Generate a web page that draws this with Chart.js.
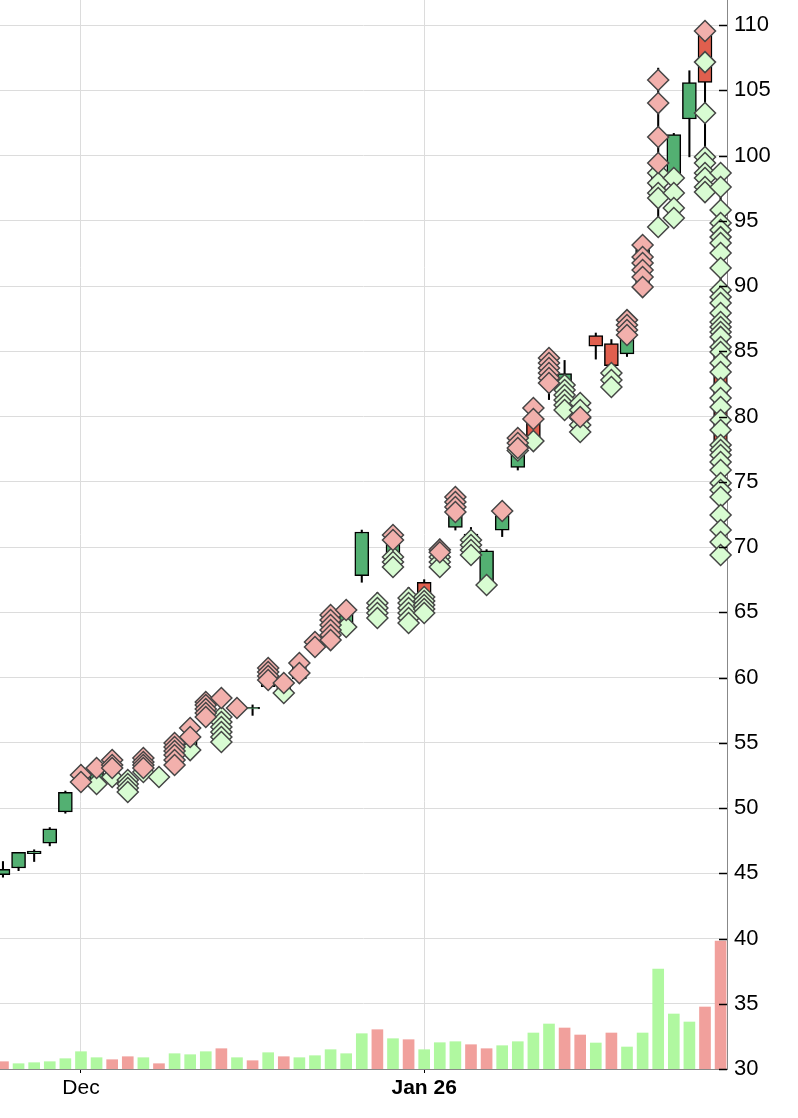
<!DOCTYPE html>
<html>
<head>
<meta charset="utf-8">
<script src="https://cdn.jsdelivr.net/npm/chart.js@4.4.0/dist/chart.umd.min.js"></script>
<style>
  html, body { margin: 0; padding: 0; background: #fff; }
</style>
</head>
<body>
<canvas id="chart" width="798" height="1118"></canvas>
<script>
// x tick positions (trading-day index) and their labels
const tickPos = [5, 27];
const tickLabels = ["Dec", "Jan 26"];
const yTicks = [30, 35, 40, 45, 50, 55, 60, 65, 70, 75, 80, 85, 90, 95, 100, 105, 110];

// daily candles, one per trading day
const opens  = [44.9, 45.4, 46.5, 47.3, 49.7, 52.1, 52.0, 52.6, 51.4, 52.6, 52.3, 53.7, 54.6, 56.8, 55.3, 57.6, 57.6, 59.3, 59.0, 59.9, 62.5, 63.2, 64.1, 67.8, 64.5, 68.4, 64.5, 67.3, 68.6, 71.5, 70.2, 67.3, 71.3, 76.1, 79.7, 82.8, 82.2, 79.0, 86.2, 85.6, 84.8, 89.8, 97.0, 98.4, 102.8, 109.5, 86.5];
const highs  = [45.9, 46.6, 46.8, 48.5, 51.3, 53.3, 53.0, 53.8, 52.2, 53.8, 52.7, 54.8, 56.0, 58.1, 57.2, 58.0, 57.9, 60.4, 59.6, 61.1, 62.9, 64.9, 65.2, 71.3, 66.5, 70.9, 66.9, 67.5, 70.6, 73.8, 71.5, 69.8, 72.6, 78.0, 80.5, 84.6, 84.3, 81.0, 86.4, 85.9, 87.4, 93.1, 106.7, 101.7, 106.5, 109.8, 98.5];
const lows   = [44.7, 45.2, 45.9, 47.1, 49.6, 52.0, 51.9, 52.4, 51.2, 52.4, 52.2, 53.6, 54.4, 56.6, 55.0, 57.4, 57.1, 59.2, 58.8, 59.8, 62.4, 63.0, 63.9, 67.3, 64.3, 68.2, 64.2, 65.0, 68.4, 71.3, 69.5, 67.1, 70.8, 75.9, 78.1, 81.3, 80.6, 78.8, 84.4, 82.5, 84.6, 89.7, 94.5, 95.2, 99.9, 100.2, 69.5];
const closes = [45.3, 46.6, 46.7, 48.4, 51.2, 52.5, 52.9, 53.6, 51.9, 53.5, 52.5, 54.5, 55.5, 57.8, 56.8, 57.8, 57.72, 60.1, 59.4, 60.9, 62.8, 64.6, 64.9, 71.15, 66.0, 70.4, 66.0, 66.3, 69.7, 73.4, 71.0, 69.7, 72.4, 77.3, 78.4, 84.2, 83.3, 80.8, 85.4, 83.9, 86.6, 92.8, 98.5, 101.6, 105.6, 105.6, 77.3];

// volume (millions) and whether the volume bar is drawn as an up day
const volumes = [0.73, 0.53, 0.63, 0.73, 1.03, 1.73, 1.13, 0.93, 1.23, 1.13, 0.53, 1.53, 1.43, 1.73, 2.03, 1.13, 0.83, 1.63, 1.23, 1.13, 1.33, 1.93, 1.53, 3.53, 3.93, 3.03, 2.93, 1.93, 2.63, 2.73, 2.43, 2.03, 2.33, 2.73, 3.6, 4.5, 4.1, 3.4, 2.6, 3.6, 2.2, 3.6, 10.0, 5.5, 4.7, 6.2, 12.8];
const volumeUp = [0, 1, 1, 1, 1, 1, 1, 0, 0, 1, 0, 1, 1, 1, 0, 1, 0, 1, 0, 1, 1, 1, 1, 1, 0, 1, 0, 1, 1, 1, 0, 0, 1, 1, 1, 1, 0, 0, 1, 0, 1, 1, 1, 1, 1, 0, 0];

// diamond markers: [day index, price]
const redMarks = [
  [5, 52.53], [5, 51.99], [6, 53.07], [7, 53.68], [7, 53.30], [7, 53.07],
  [9, 53.83], [9, 53.52], [9, 53.30], [9, 53.07],
  [11, 54.98], [11, 54.67], [11, 54.37], [11, 54.06], [11, 53.68], [11, 53.30],
  [12, 56.13], [12, 55.44], [13, 58.12], [13, 57.89], [13, 57.59], [13, 57.28], [13, 56.97],
  [14, 58.43], [15, 57.66], [17, 60.73], [17, 60.42], [17, 60.11], [17, 59.81],
  [18, 59.58], [19, 61.11], [19, 60.34], [20, 62.72], [20, 62.34],
  [21, 64.79], [21, 64.41], [21, 64.02], [21, 63.64], [21, 63.26], [21, 62.87],
  [22, 65.17], [25, 70.92], [25, 70.54], [28, 69.8], [28, 69.6],
  [29, 73.83], [29, 73.45], [29, 73.07], [29, 72.68], [32, 72.76],
  [33, 78.35], [33, 77.97], [33, 77.59], [34, 80.65], [34, 79.81],
  [35, 84.48], [35, 84.10], [35, 83.72], [35, 83.33], [35, 82.95], [35, 82.57],
  [37, 79.96], [40, 87.39], [40, 87.01], [40, 86.63], [40, 86.25],
  [41, 93.14], [41, 92.22], [41, 91.76], [41, 91.23], [41, 90.69], [41, 89.92],
  [42, 105.79], [42, 104.02], [42, 101.42], [42, 99.43], [45, 109.54]
];
const greenMarks = [
  [6, 51.84], [7, 52.38], [8, 52.15], [8, 51.84], [8, 51.53], [8, 51.23],
  [9, 52.76], [10, 52.38], [12, 54.44],
  [14, 56.97], [14, 56.59], [14, 56.21], [14, 55.82], [14, 55.44], [14, 55.06],
  [18, 58.81], [22, 63.87], [24, 65.71], [24, 65.33], [24, 64.94], [24, 64.56],
  [25, 69.23], [25, 68.85], [25, 68.47],
  [26, 66.09], [26, 65.71], [26, 65.33], [26, 64.94], [26, 64.56], [26, 64.18],
  [27, 66.17], [27, 65.86], [27, 65.56], [27, 65.25], [27, 64.94],
  [28, 69.23], [28, 68.85], [28, 68.47],
  [30, 70.54], [30, 70.15], [30, 69.77], [30, 69.39], [31, 67.09], [33, 77.4], [34, 78.12],
  [36, 82.41], [36, 82.03], [36, 81.65], [36, 81.26], [36, 80.88], [36, 80.50],
  [37, 81.03], [37, 80.50], [37, 79.89], [37, 79.35], [37, 78.81],
  [39, 83.33], [39, 82.80], [39, 82.26],
  [42, 98.66], [42, 97.89], [42, 97.13], [42, 96.74], [42, 94.52],
  [43, 98.28], [43, 97.13], [43, 95.98], [43, 95.21],
  [45, 107.16], [45, 103.26], [45, 99.89], [45, 99.43], [45, 98.66], [45, 98.28], [45, 97.59], [45, 97.20],
  [46, 98.66], [46, 97.59], [46, 95.82], [46, 94.83], [46, 94.29], [46, 93.75], [46, 93.30], [46, 92.53],
  [46, 91.38], [46, 89.69], [46, 89.16], [46, 88.70], [46, 87.93], [46, 87.24], [46, 86.86], [46, 86.48],
  [46, 86.10], [46, 85.33], [46, 84.94], [46, 84.10], [46, 83.41], [46, 82.18], [46, 81.42], [46, 80.73],
  [46, 79.73], [46, 78.97], [46, 77.82], [46, 77.43], [46, 77.05], [46, 76.51], [46, 75.90], [46, 74.90],
  [46, 74.37], [46, 73.83], [46, 72.45], [46, 71.30], [46, 70.38], [46, 69.39]
];

Chart.defaults.font.family = "'Liberation Sans', Arial, sans-serif";
Chart.defaults.color = "#000";

const upColor = "#53b072";
const downColor = "#e05f4e";

// short black ticks drawn inside the plot, next to the right axis
const innerTicks = {
  id: "innerTicks",
  afterDraw(chart) {
    const { ctx, chartArea } = chart;
    const y = chart.scales.y;
    ctx.save();
    ctx.strokeStyle = "#000";
    ctx.lineWidth = 1.5;
    y.ticks.forEach(t => {
      const py = Math.round(y.getPixelForValue(t.value)) + 0.5;
      ctx.beginPath();
      ctx.moveTo(chartArea.right - 8, py);
      ctx.lineTo(chartArea.right, py);
      ctx.stroke();
    });
    ctx.restore();
  }
};

const days = opens.map((o, i) => i);

new Chart(document.getElementById("chart"), {
  type: "bar",
  data: {
    datasets: [
      {
        type: "scatter",
        data: redMarks.map(m => ({ x: m[0], y: m[1] })),
        pointStyle: "rectRot",
        pointRadius: 10.5,
        pointBackgroundColor: "#f2b0ac",
        pointBorderColor: "#454545",
        pointBorderWidth: 1.5,
        clip: false,
        order: 0
      },
      {
        type: "scatter",
        data: greenMarks.map(m => ({ x: m[0], y: m[1] })),
        pointStyle: "rectRot",
        pointRadius: 10.5,
        pointBackgroundColor: "#d8fcd2",
        pointBorderColor: "#454545",
        pointBorderWidth: 1.5,
        clip: false,
        order: 1
      },
      {
        data: days.map(i => ({ x: i, y: [opens[i], closes[i]] })),
        backgroundColor: days.map(i => closes[i] >= opens[i] ? upColor : downColor),
        borderColor: "#000",
        borderWidth: 1.5,
        borderSkipped: false,
        barThickness: 14,
        grouped: false,
        order: 2
      },
      {
        data: days.map(i => ({ x: i, y: [lows[i], highs[i]] })),
        backgroundColor: "#000",
        barThickness: 1.4,
        grouped: false,
        order: 3
      },
      {
        data: days.map(i => ({ x: i, y: volumes[i] })),
        yAxisID: "yv",
        backgroundColor: volumeUp.map(u => u ? "#b0f8a0" : "#f1a09c"),
        barThickness: 11,
        grouped: false,
        order: 4
      }
    ]
  },
  options: {
    responsive: false,
    animation: false,
    layout: { padding: 0, autoPadding: false },
    plugins: { legend: { display: false }, tooltip: { enabled: false } },
    scales: {
      x: {
        type: "linear",
        min: -0.19,
        max: 46.41,
        offset: false,
        afterBuildTicks: s => { s.ticks = tickPos.map(v => ({ value: v })); },
        afterFit: s => { s.height = 49; s.paddingLeft = 0; s.paddingRight = 0; },
        ticks: {
          autoSkip: false,
          maxRotation: 0,
          padding: 3,
          color: "#000",
          callback: v => tickLabels[tickPos.indexOf(v)],
          font: ctx => ({ size: 21, weight: ctx.tick && ctx.tick.value === 27 ? "bold" : "normal" })
        },
        grid: { offset: false, color: "#dcdcdc", tickColor: "#000", tickLength: 4 },
        border: { color: "#888" }
      },
      y: {
        position: "right",
        min: 30,
        max: 111.92,
        afterBuildTicks: s => { s.ticks = yTicks.map(v => ({ value: v })); },
        afterFit: s => { s.width = 71; s.paddingTop = 0; s.paddingBottom = 0; },
        ticks: { padding: 7, color: "#000", font: { size: 22 } },
        grid: { color: "#dcdcdc", drawTicks: false },
        border: { color: "#888" }
      },
      yv: { display: false, min: 0, max: 106.9 }
    }
  },
  plugins: [innerTicks]
});
</script>
</body>
</html>
